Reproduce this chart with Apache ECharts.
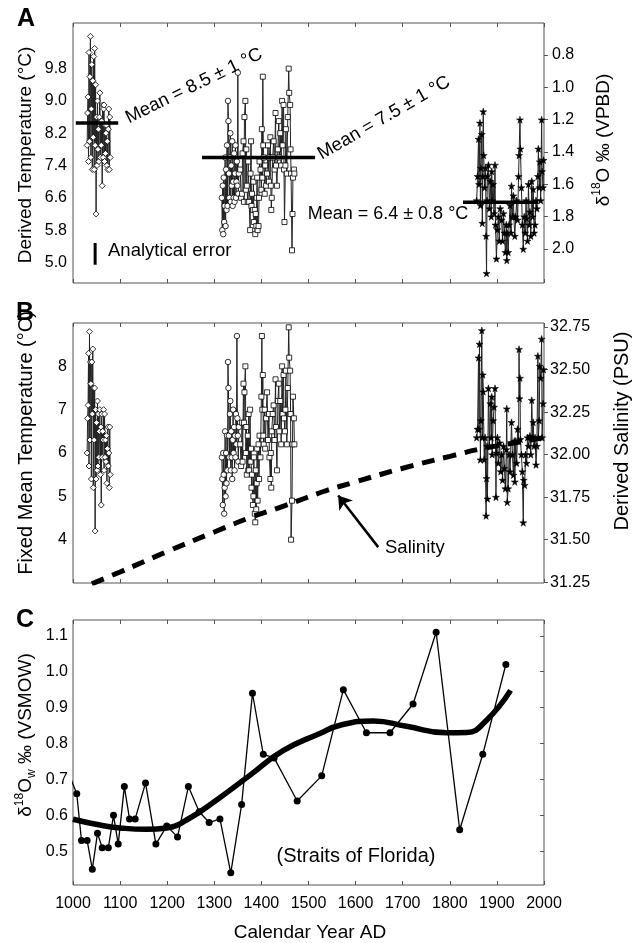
<!DOCTYPE html>
<html>
<head>
<meta charset="utf-8">
<script src="https://cdn.jsdelivr.net/npm/echarts@6/dist/echarts.min.js"></script>
<style>
html,body{margin:0;padding:0;background:#fff;}
#chart{width:641px;height:943px;}
</style>
</head>
<body>
<div id="chart"></div>
<script>
// ---------------- DATA ----------------
// Panel A: derived temperature (°C), clusters
const yearsA1 = [1030,1031,1032,1033,1034,1035,1036,1037,1038,1039,1040,1041,1042,1043,1044,1045,1046,1047,1048,1049,1050,1051,1052,1053,1054,1055,1056,1057,1058,1059,1060,1061,1062,1063,1064,1065,1066,1067,1068,1069,1070,1071,1072,1073,1074,1075,1076,1077,1078,1079];
const tempA1  = [7.9,8.7,9.1,7.5,10.2,8.0,9.6,10.6,7.6,8.8,9.9,7.3,9.5,8.1,10.1,7.3,10.3,7.9,9.4,6.2,8.6,7.4,9.0,7.8,8.3,7.5,8.6,9.2,7.6,8.5,7.9,8.5,6.9,8.9,7.6,8.8,8.9,7.5,8.4,7.7,8.2,8.4,7.4,8.0,7.3,8.3,8.8,7.3,8.6,7.6];

const yearsA2c = [1316,1317,1318,1319,1320,1321,1322,1323,1324,1325,1326,1327,1328,1329,1330,1331,1332,1333,1334,1335,1336,1337,1338,1339,1340,1341,1342,1343,1344,1345,1346,1347,1348,1349,1350,1351,1352];
const tempA2c  = [6.6,5.8,6.9,5.7,7.1,6.0,6.4,7.6,5.9,7.3,6.3,7.9,6.4,9.0,8.5,7.2,6.6,7.6,8.2,6.5,7.4,6.9,8.0,6.4,7.0,6.6,7.7,6.5,7.2,7.9,6.6,7.0,7.5,6.9,9.7,6.7,7.2];

const yearsA2s = [1355,1357,1359,1360,1362,1363,1364,1366,1367,1368,1369,1371,1372,1374,1376,1377,1378,1379,1380,1382,1383,1384,1386,1387,1388,1389,1390,1391,1392,1394,1395,1396,1398,1400,1401,1402,1403,1404,1405,1407,1408,1410,1412,1414,1416,1417,1419,1420,1421,1422,1424,1426,1428,1430,1431,1433,1435,1437,1438,1440,1442,1444,1445,1447,1448,1449,1451,1452,1454,1456,1458,1459,1461,1462,1463,1465,1466,1467,1469,1470];
const tempA2s  = [7.3,6.6,6.7,7.7,8.0,6.5,8.6,9.0,6.8,7.8,6.9,6.5,7.5,6.5,5.8,7.2,8.0,6.4,6.7,6.3,7.0,6.0,6.3,5.7,6.2,5.9,6.6,7.1,5.8,5.9,6.6,7.5,7.3,6.8,8.3,7.1,9.6,7.9,7.6,6.7,7.4,6.9,7.2,7.9,7.0,7.6,8.1,6.9,6.3,6.6,7.6,8.0,7.3,8.7,7.4,6.9,7.8,8.5,7.6,8.2,7.4,9.0,7.9,8.9,7.3,6.0,7.4,8.3,7.2,8.6,9.8,9.2,8.9,7.8,7.2,5.3,6.2,7.1,7.3,7.2];

// Panel A: δ18O (‰ VPDB), modern cluster (right axis)
const yearsA3 = [1857,1859,1861,1862,1864,1865,1866,1868,1869,1870,1871,1872,1874,1876,1877,1878,1879,1880,1882,1884,1886,1888,1889,1890,1892,1894,1896,1897,1899,1901,1903,1905,1907,1910,1912,1914,1916,1918,1920,1921,1922,1924,1926,1928,1930,1931,1933,1935,1936,1938,1940,1942,1944,1946,1947,1949,1950,1952,1954,1956,1958,1960,1962,1963,1965,1967,1969,1970,1972,1974,1976,1977,1979,1981,1983,1985,1987,1988,1990,1991,1993,1995,1996,1998,1999];
const d18oA3  = [1.70,1.55,1.32,1.60,1.22,1.73,1.50,1.29,1.84,1.55,1.15,1.42,1.62,1.50,1.92,2.15,1.70,1.55,1.48,1.75,1.58,1.80,1.52,1.70,1.60,1.78,1.48,1.85,2.06,1.88,1.80,1.95,1.75,1.82,1.95,1.78,1.90,2.02,1.85,2.07,1.90,2.02,1.85,1.73,1.90,1.61,1.80,1.67,1.80,1.92,1.80,1.70,1.82,1.55,1.42,1.20,1.38,1.62,1.85,2.00,1.80,1.90,1.70,1.81,1.95,1.60,1.85,1.77,1.92,1.58,1.80,1.63,1.90,1.85,1.70,1.75,1.55,1.38,1.62,1.46,1.70,1.20,1.52,1.62,1.45];

// Panel A: mean lines and analytical error bar
const meanA1Years = [1006,1096]; const meanA1 = [8.45,8.45];
const meanA2Years = [1274,1514]; const meanA2 = [7.60,7.60];
const meanA3Years = [1828,1988]; const meanA3 = [1.711,1.711];
const errYears = [1047,1047]; const errVals = [4.94,5.48];

// Panel B: fixed mean temperature (°C)
const yearsB1 = [1030,1031,1032,1033,1034,1035,1036,1037,1038,1039,1040,1041,1042,1043,1044,1045,1046,1047,1048,1049,1050,1051,1052,1053,1054,1055,1056,1057,1058,1059,1060,1061,1062,1063,1064,1065,1066,1067,1068,1069,1070,1071,1072,1073,1074,1075,1076,1077,1078,1079];
const tempB1  = [6.0,6.8,7.1,8.3,5.7,8.8,6.3,8.1,7.6,5.4,8.1,6.9,8.4,5.2,7.5,6.3,7.5,4.2,7.0,5.4,6.7,5.6,7.2,5.7,6.9,5.9,6.5,7.0,5.5,6.6,4.8,6.9,5.9,6.5,6.3,7.0,5.6,6.9,5.9,6.3,5.8,6.4,5.3,6.1,6.6,5.7,6.0,5.2,6.6,5.5];

const yearsB2c = [1316,1317,1318,1319,1320,1321,1322,1323,1324,1325,1326,1327,1328,1329,1330,1331,1332,1333,1334,1335,1336,1337,1338,1339,1340,1341,1342,1343,1344,1345,1346,1347,1348,1349,1350,1351,1352];
const tempB2c  = [5.9,5.4,4.8,6.0,5.5,4.6,5.2,6.5,5.0,6.0,5.3,6.4,5.6,8.1,7.5,6.4,5.9,6.9,7.2,5.6,6.5,5.9,5.4,6.3,7.0,6.0,6.6,5.6,6.4,5.9,6.9,6.2,8.7,6.8,6.4,5.8,6.6];

const yearsB2s = [1355,1357,1359,1360,1362,1363,1364,1366,1367,1368,1369,1371,1372,1373,1374,1376,1377,1378,1379,1380,1382,1383,1384,1386,1387,1388,1389,1390,1391,1392,1394,1395,1396,1398,1400,1401,1402,1403,1404,1405,1407,1408,1410,1412,1414,1416,1417,1419,1420,1421,1422,1424,1426,1428,1430,1431,1433,1435,1437,1438,1440,1442,1444,1445,1447,1448,1450,1451,1452,1454,1456,1458,1459,1461,1462,1463,1465,1466,1467,1469,1470];
const tempB2s  = [6.2,5.7,6.7,5.8,7.6,6.7,7.4,8.0,6.0,6.6,5.5,6.4,5.6,6.9,5.6,7.0,5.8,6.1,5.2,5.5,4.8,5.0,5.9,4.6,4.4,5.6,4.7,5.3,6.1,4.9,6.2,5.4,6.4,5.9,7.3,8.7,7.0,7.8,6.4,6.2,7.0,6.1,6.8,7.4,6.3,6.9,5.9,5.4,6.0,5.2,6.5,6.9,7.1,6.3,7.7,6.6,5.6,7.2,7.6,6.5,7.2,6.2,8.0,6.9,7.8,6.8,6.5,7.0,7.9,6.2,7.5,8.9,8.2,7.9,6.9,4.0,4.9,6.2,7.3,6.8,6.2];

// Panel B: derived salinity (PSU), modern cluster (right axis)
const yearsB3 = [1857,1859,1861,1862,1863,1865,1866,1868,1869,1870,1871,1873,1875,1877,1878,1879,1880,1882,1884,1886,1888,1889,1890,1892,1894,1896,1898,1899,1901,1903,1906,1908,1910,1912,1914,1916,1918,1920,1921,1922,1924,1926,1928,1931,1933,1935,1937,1938,1940,1942,1944,1946,1947,1948,1949,1950,1952,1954,1956,1957,1959,1961,1963,1965,1967,1970,1972,1974,1976,1977,1979,1981,1983,1985,1987,1988,1990,1991,1993,1995,1996,1998,1999];
const salB3   = [32.10,32.15,32.57,32.15,32.65,31.97,32.20,32.73,32.10,32.47,32.37,31.97,32.10,31.64,31.86,32.05,31.74,32.39,32.05,32.30,32.10,32.34,32.00,32.20,32.28,32.39,31.75,32.01,32.10,31.95,32.07,31.90,32.00,31.85,32.05,31.92,31.80,32.03,32.27,31.72,31.80,32.00,31.90,32.19,32.00,31.88,32.08,31.84,32.08,31.95,32.15,32.08,32.62,32.33,32.45,32.09,32.00,31.90,31.60,31.85,31.82,32.00,31.95,32.10,32.05,32.11,32.00,32.32,32.10,32.19,32.05,32.10,31.94,32.05,32.58,32.10,32.20,32.52,32.45,32.68,32.10,32.30,32.50];

// Panel B: salinity trend (dashed)
const salTrendYears = [1040,1100,1200,1300,1376,1450,1535,1600,1700,1800,1868,1940,2000];
const salTrend      = [31.24,31.31,31.43,31.545,31.63,31.70,31.786,31.84,31.92,31.99,32.035,32.07,32.10];

// Panel C: δ18Ow (‰ VSMOW)
const yearsC = [996,1008,1018,1030,1041,1052,1062,1075,1086,1096,1109,1120,1132,1154,1176,1199,1222,1245,1268,1289,1312,1335,1358,1381,1404,1427,1476,1528,1574,1623,1673,1722,1771,1821,1870,1919];
const d18owC = [0.70,0.66,0.53,0.53,0.45,0.55,0.51,0.51,0.60,0.52,0.68,0.59,0.59,0.69,0.52,0.57,0.54,0.68,0.61,0.58,0.59,0.44,0.63,0.94,0.77,0.76,0.64,0.71,0.95,0.83,0.83,0.91,1.11,0.56,0.77,1.02];
const fitYearsC = [1000,1057,1100,1156,1199,1241,1305,1376,1446,1524,1567,1638,1708,1793,1836,1878,1929];
const fitC      = [0.589,0.573,0.565,0.561,0.565,0.587,0.643,0.712,0.780,0.828,0.851,0.863,0.848,0.830,0.831,0.865,0.948];

// Tick labels
const xTicks = [1000,1100,1200,1300,1400,1500,1600,1700,1800,1900,2000];
const ticksAL = [5.0,5.8,6.6,7.4,8.2,9.0,9.8];
const ticksAR = [0.8,1.0,1.2,1.4,1.6,1.8,2.0];
const ticksBL = [4,5,6,7,8];
const ticksBR = [31.25,31.50,31.75,32.00,32.25,32.50,32.75];
const ticksC  = [0.5,0.6,0.7,0.8,0.9,1.0,1.1];

// ---------------- CHART ----------------
const FONT = '"Liberation Sans", Arial, Helvetica, sans-serif';
const zip = (xs, ys) => xs.map((x, i) => [x, ys[i]]);
const STAR = 'path://M50,0 L61,35 L98,35 L68,57 L79,91 L50,70 L21,91 L32,57 L2,35 L39,35 Z';
const BORDER = '#555';

const grids = [
  {left:73, right:97, top:23, height:260},
  {left:73, right:97, top:323, height:260},
  {left:73, right:97, top:620, height:265}
].map(g => Object.assign(g, {show:true, borderColor:BORDER, borderWidth:1, backgroundColor:'transparent'}));

const xAxes = [];
for (let g = 0; g < 3; g++) {
  ['bottom','top'].forEach(pos => {
    xAxes.push({
      type:'value', gridIndex:g, position:pos, min:1000, max:2000, interval:100,
      axisLine:{show:false}, splitLine:{show:false},
      axisTick:{show:true, inside:true, length:4, customValues:xTicks, lineStyle:{color:BORDER, width:1}},
      axisLabel:{show: g === 2 && pos === 'bottom', customValues:xTicks, margin:11, fontSize:16, color:'#000', fontFamily:FONT,
        formatter: v => String(v)}
    });
  });
}

function yAx(grid, pos, min, max, ticks, dec, opts) {
  return Object.assign({
    type:'value', gridIndex:grid, position:pos, min:min, max:max,
    axisLine:{show:false}, splitLine:{show:false},
    axisTick:{show:false},
    axisLabel:{show:true, customValues:ticks, margin:6, fontSize:16, color:'#000', fontFamily:FONT,
      formatter: v => Number(v).toFixed(dec)}
  }, opts || {});
}
const yAxes = [
  yAx(0,'left',4.49,10.93,ticksAL,1),
  yAx(0,'right',0.602,2.21,ticksAR,1,{inverse:true,
    axisTick:{show:true, inside:false, length:4, customValues:ticksAR, lineStyle:{color:BORDER}}}),
  yAx(1,'left',3,9,ticksBL,0),
  yAx(1,'right',31.245,32.774,ticksBR,2,{
    axisTick:{show:true, inside:false, length:4, customValues:ticksBR, lineStyle:{color:BORDER}}}),
  yAx(2,'left',0.406,1.144,ticksC,1),
  yAx(2,'right',0.406,1.144,ticksC,1,{
    axisLabel:{show:false},
    axisTick:{show:true, inside:true, length:4, customValues:ticksC, lineStyle:{color:BORDER}}})
];
yAxes[0].axisLabel.margin = 6;
yAxes[1].axisLabel.margin = 8;
yAxes[3].axisLabel.margin = 6;
yAxes[4].axisLabel.margin = 5;

function cluster(xIdx, yIdx, data, symbol, size, filled) {
  return {
    type:'line', xAxisIndex:xIdx, yAxisIndex:yIdx, data:data,
    symbol:symbol, symbolSize:size, showAllSymbol:true, clip:true,
    lineStyle:{color:'#222', width:1},
    itemStyle: filled ? {color:'#000', borderColor:'#000', borderWidth:0.5}
                      : {color:'#fff', borderColor:'#000', borderWidth:0.8},
    emphasis:{disabled:true}, animation:false, z:3
  };
}
function thick(xIdx, yIdx, data, width, extra) {
  return Object.assign({
    type:'line', xAxisIndex:xIdx, yAxisIndex:yIdx, data:data, symbol:'none', clip:true,
    lineStyle:{color:'#000', width:width, cap:'butt'}, emphasis:{disabled:true}, z:5
  }, extra || {});
}

const series = [
  // Panel A
  cluster(0, 0, zip(yearsA1, tempA1), 'diamond', 6, false),
  cluster(0, 0, zip(yearsA2c, tempA2c), 'circle', 5.5, false),
  cluster(0, 0, zip(yearsA2s, tempA2s), 'rect', 5, false),
  cluster(0, 1, zip(yearsA3, d18oA3), STAR, 7, true),
  thick(0, 0, zip(meanA1Years, meanA1), 3.5),
  thick(0, 0, zip(meanA2Years, meanA2), 3.5),
  thick(0, 1, zip(meanA3Years, meanA3), 3.5),
  thick(0, 0, zip(errYears, errVals), 3),
  // Panel B
  cluster(2, 2, zip(yearsB1, tempB1), 'diamond', 6, false),
  cluster(2, 2, zip(yearsB2c, tempB2c), 'circle', 5.5, false),
  cluster(2, 2, zip(yearsB2s, tempB2s), 'rect', 5, false),
  cluster(2, 3, zip(yearsB3, salB3), STAR, 7, true),
  thick(2, 3, zip(salTrendYears, salTrend), 5, {
    smooth:0.4,
    lineStyle:{color:'#000', width:5, type:[13,9], cap:'butt'},
    markLine:{
      silent:true, symbol:['none','arrow'], symbolSize:13, animation:false,
      label:{show:false}, emphasis:{disabled:true},
      lineStyle:{color:'#000', width:2.5, type:'solid'},
      data:[[{coord:[1648,31.456], symbol:'none'},{coord:[1563,31.76], symbol:'arrow', symbolSize:13}]]
    }
  }),
  // Panel C
  {
    type:'line', xAxisIndex:4, yAxisIndex:4, data:zip(yearsC, d18owC), clip:true,
    symbol:'circle', symbolSize:7, showAllSymbol:true,
    lineStyle:{color:'#000', width:1.3}, itemStyle:{color:'#000'},
    emphasis:{disabled:true}, z:3
  },
  thick(4, 4, zip(fitYearsC, fitC), 5.5, {smooth:0.5, z:6})
];

function label(x, y, text, opts) {
  return Object.assign({
    type:'text', x:x, y:y, silent:true,
    style:Object.assign({text:text, fill:'#000', font:'18px ' + FONT, align:'center', verticalAlign:'middle'},
      (opts && opts.style) || {})
  }, opts && opts.rotation !== undefined ? {rotation:opts.rotation} : {});
}
const deg = Math.PI / 180;
const graphic = [
  label(26, 19, 'A', {style:{font:'bold 25px ' + FONT}}),
  label(25, 313, 'B', {style:{font:'bold 25px ' + FONT}}),
  label(25, 620, 'C', {style:{font:'bold 25px ' + FONT}}),
  label(26, 155, 'Derived Temperature (°C)', {rotation:90*deg, style:{font:'19px ' + FONT}}),
  {
    type:'text', x:602, y:140, rotation:90*deg, silent:true,
    style:{text:'{n|δ}{s|18}{n|O ‰ (VPBD)}', align:'center', verticalAlign:'middle',
      rich:{n:{fontSize:19, fontFamily:FONT, fill:'#000', lineHeight:22, verticalAlign:'bottom'},
            s:{fontSize:12, fontFamily:FONT, fill:'#000', lineHeight:22, verticalAlign:'top'}}}
  },
  label(26, 443, 'Fixed Mean Temperature (°C)', {rotation:90*deg, style:{font:'20px ' + FONT}}),
  label(622, 431, 'Derived Salinity (PSU)', {rotation:90*deg, style:{font:'20px ' + FONT}}),
  {
    type:'text', x:26, y:735, rotation:90*deg, silent:true,
    style:{text:'{n|δ}{s|18}{n|O}{b|w}{n| ‰ (VSMOW)}', align:'center', verticalAlign:'middle',
      rich:{n:{fontSize:19, fontFamily:FONT, fill:'#000', lineHeight:24, verticalAlign:'middle'},
            s:{fontSize:12, fontFamily:FONT, fill:'#000', lineHeight:24, verticalAlign:'top'},
            b:{fontSize:12, fontFamily:FONT, fill:'#000', lineHeight:24, verticalAlign:'bottom'}}}
  },
  label(310, 933, 'Calendar Year AD', {style:{font:'19px ' + FONT}}),
  label(194, 86, 'Mean = 8.5 ± 1 °C', {rotation:26*deg, style:{font:'18.5px ' + FONT}}),
  label(384, 118, 'Mean = 7.5 ± 1 °C', {rotation:30*deg, style:{font:'18.5px ' + FONT}}),
  label(388, 214, 'Mean = 6.4 ± 0.8 °C', {style:{font:'18px ' + FONT}}),
  label(108, 251, 'Analytical error', {style:{font:'18.5px ' + FONT, align:'left'}}),
  label(385, 548, 'Salinity', {style:{font:'18.5px ' + FONT, align:'left'}}),
  label(356, 856, '(Straits of Florida)', {style:{font:'20px ' + FONT}})
];

const chart = echarts.init(document.getElementById('chart'), null, {renderer:'canvas'});
chart.setOption({
  animation:false,
  backgroundColor:'#fff',
  textStyle:{fontFamily:FONT},
  grid:grids, xAxis:xAxes, yAxis:yAxes, series:series, graphic:graphic
});
</script>
</body>
</html>
